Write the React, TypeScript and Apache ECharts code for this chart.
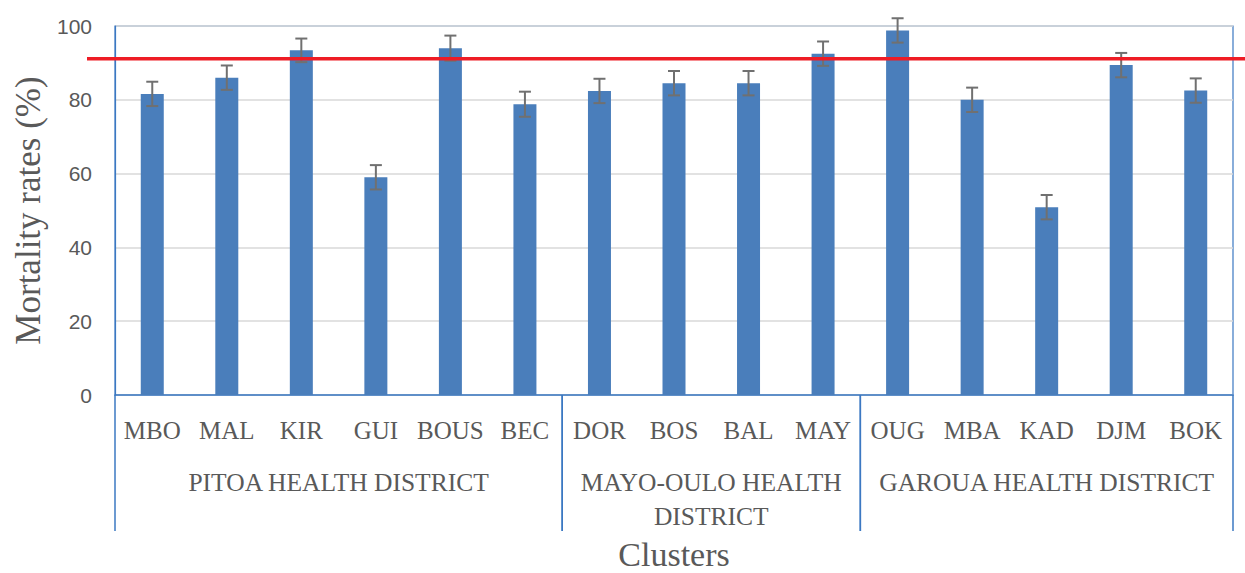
import React, { useEffect, useRef } from "react";
import * as echarts from "echarts";

const clusters = ["MBO", "MAL", "KIR", "GUI", "BOUS", "BEC", "DOR", "BOS", "BAL", "MAY", "OUG", "MBA", "KAD", "DJM", "BOK"];
const mortality = [81.6, 86.0, 93.4, 59.0, 94.0, 78.8, 82.4, 84.5, 84.5, 92.5, 98.8, 80.0, 50.9, 89.4, 82.5];
const errors = [3.3, 3.3, 3.2, 3.3, 3.4, 3.4, 3.3, 3.3, 3.3, 3.3, 3.3, 3.3, 3.3, 3.3, 3.3];
const districts = ["PITOA HEALTH DISTRICT", "MAYO-OULO HEALTH\nDISTRICT", "GAROUA HEALTH DISTRICT"];
const districtStart = [0, 6, 10];
const districtEnd = [5, 9, 14];
const threshold = 91.1;
const yMin = 0;
const yMax = 100;
const yStep = 20;

const GRAY = "#595959";
const BLUE = "#4a7ebb";
const LINE_BLUE = "#3b78c2";

export default function App() {
  const ref = useRef<HTMLDivElement>(null);
  useEffect(() => {
    if (!ref.current) return;
    const chart = echarts.init(ref.current, undefined, { renderer: "svg" });
    chart.setOption({
      animation: false,
      backgroundColor: "#ffffff",
      grid: {
        left: 115,
        right: 12,
        top: 26,
        bottom: 178,
        outerBoundsMode: "none",
        containLabel: false,
        show: true,
        borderColor: LINE_BLUE,
        borderWidth: 1.2,
        backgroundColor: "transparent",
      },
      xAxis: {
        type: "category",
        data: clusters,
        axisTick: { show: false },
        axisLine: { lineStyle: { color: LINE_BLUE, width: 1.5 } },
        axisLabel: {
          interval: 0,
          margin: 23,
          fontSize: 25,
          lineHeight: 25,
          fontFamily: "Liberation Serif",
          color: GRAY,
        },
        name: "Clusters",
        nameLocation: "middle",
        nameGap: 144,
        nameTextStyle: { fontSize: 34, lineHeight: 30, fontFamily: "Liberation Serif", color: GRAY },
      },
      yAxis: {
        type: "value",
        min: yMin,
        max: yMax,
        interval: yStep,
        axisLine: { show: true, lineStyle: { color: LINE_BLUE, width: 1.2 } },
        axisTick: { show: false },
        axisLabel: { fontSize: 21, fontFamily: "Liberation Sans", color: GRAY, margin: 23 },
        splitLine: { lineStyle: { color: "#d9d9d9", width: 1.5 } },
        name: "Mortality rates (%)",
        nameLocation: "middle",
        nameGap: 69,
        nameTextStyle: { fontSize: 35, fontFamily: "Liberation Serif", color: GRAY },
      },
      series: [
        {
          type: "bar",
          data: mortality,
          barWidth: 23,
          itemStyle: { color: BLUE },
          z: 2,
        },
        {
          type: "custom",
          clip: false,
          z: 4,
          data: clusters.map((_, i) => [i, mortality[i], errors[i]]),
          renderItem: (params: any, api: any) => {
            const x = api.value(0);
            const v = api.value(1);
            const e = api.value(2);
            const top = api.coord([x, v + e]);
            const bot = api.coord([x, v - e]);
            const hw = 6;
            const st = { stroke: "#707070", lineWidth: 2 };
            return {
              type: "group",
              children: [
                { type: "line", shape: { x1: top[0], y1: top[1], x2: bot[0], y2: bot[1] }, style: st },
                { type: "line", shape: { x1: top[0] - hw, y1: top[1], x2: top[0] + hw, y2: top[1] }, style: st },
                { type: "line", shape: { x1: bot[0] - hw, y1: bot[1], x2: bot[0] + hw, y2: bot[1] }, style: st },
              ],
            };
          },
        },
        {
          type: "custom",
          clip: false,
          z: 5,
          data: [[0, threshold]],
          renderItem: (params: any, api: any) => {
            const p = api.coord([0, api.value(1)]);
            const x0 = params.coordSys.x - 28;
            return {
              type: "line",
              shape: { x1: x0, y1: p[1], x2: api.getWidth(), y2: p[1] },
              style: { stroke: "#ee1c25", lineWidth: 3.5 },
            };
          },
        },
        {
          type: "custom",
          clip: false,
          z: 3,
          data: districts.map((_, i) => [districtStart[i], districtEnd[i], i]),
          renderItem: (params: any, api: any) => {
            const s = api.value(0);
            const e = api.value(1);
            const idx = api.value(2);
            const bw = api.size([1, 0])[0];
            const a = api.coord([s, 0]);
            const b = api.coord([e, 0]);
            const left = a[0] - bw / 2;
            const right = b[0] + bw / 2;
            const y0 = a[1];
            const st = { stroke: LINE_BLUE, lineWidth: 1.5 };
            return {
              type: "group",
              children: [
                { type: "line", shape: { x1: left, y1: y0, x2: left, y2: y0 + 136 }, style: st },
                { type: "line", shape: { x1: right, y1: y0, x2: right, y2: y0 + 136 }, style: st },
                {
                  type: "text",
                  x: (left + right) / 2,
                  y: y0 + 70,
                  style: {
                    text: districts[idx],
                    align: "center",
                    verticalAlign: "top",
                    fontSize: 25.5,
                    lineHeight: 34,
                    fontFamily: "Liberation Serif",
                    fill: GRAY,
                  },
                },
              ],
            };
          },
        },
      ],
    });
    return () => chart.dispose();
  }, []);
  return (
    <div
      ref={ref}
      style={{ position: "fixed", left: 0, top: 0, width: 1245, height: 573, background: "#fff" }}
    />
  );
}
